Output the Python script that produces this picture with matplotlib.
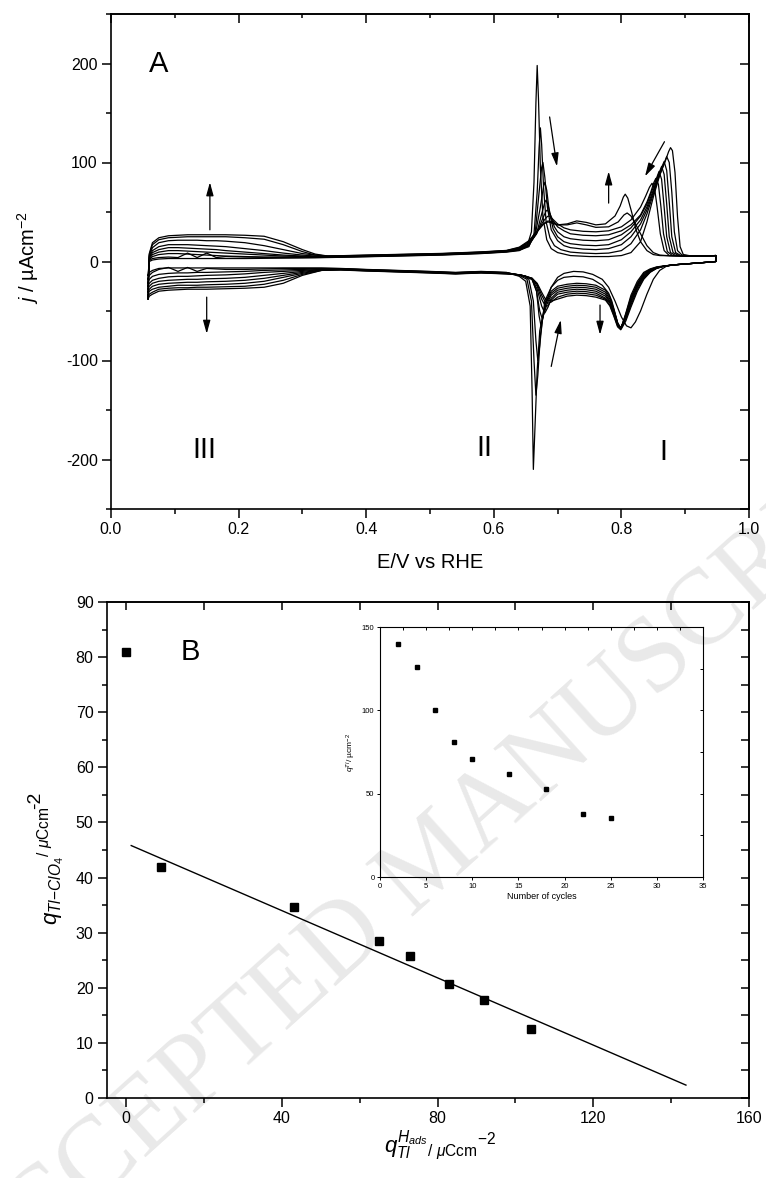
import numpy as np
import matplotlib
matplotlib.use('Agg')
import matplotlib.pyplot as plt

LABEL_FONT = 'Liberation Sans'

plt.rcParams['font.family'] = ['Liberation Sans', 'DejaVu Sans']
plt.rcParams['mathtext.fontset'] = 'custom'
plt.rcParams['mathtext.rm'] = 'Liberation Sans'
plt.rcParams['mathtext.it'] = 'Liberation Sans:italic'
plt.rcParams['mathtext.bf'] = 'Liberation Sans:bold'
plt.rcParams['axes.unicode_minus'] = False

# ---------------- Panel A data: cyclic voltammograms (9 cycles) ----------------
E_low_an = [0.058, 0.060, 0.065, 0.075, 0.09, 0.105, 0.12, 0.135, 0.15, 0.165, 0.18,
            0.21, 0.24, 0.27, 0.30, 0.32, 0.34, 0.38, 0.45, 0.52, 0.58, 0.62]
j_low_an = [
    [-14, 0, 1.5, 2.5, 3, 3, 3, 3, 3, 3, 3, 3, 3.2, 3.4, 3.6, 3.8, 4, 4.5, 5.5, 6.5, 8, 9.5],
    [-18, 1, 3, 4, 4.5, 4, 8.5, 4, 8.5, 4, 5, 4.5, 4.2, 4, 4, 4, 4.2, 4.7, 5.7, 6.8, 8.2, 9.8],
    [-22, 2, 5, 7, 8, 8, 7.5, 7, 6.5, 6, 5.5, 5, 4.5, 4.5, 4.5, 4.5, 4.6, 5, 6, 7, 8.5, 10],
    [-25, 3, 7, 9.5, 11, 11, 10.5, 10, 9.5, 9, 8.5, 7.5, 6.5, 5.5, 5, 5, 5, 5.2, 6.2, 7.2, 8.7, 10.2],
    [-28, 4, 9, 12, 14, 14, 13.5, 13, 12.5, 12, 11, 9.5, 8, 6.5, 5.5, 5, 5, 5.4, 6.4, 7.4, 8.9, 10.4],
    [-31, 5, 11, 15, 17, 17, 17, 16.5, 16, 15.5, 15, 13, 11, 8.5, 6.5, 5.5, 5.2, 5.6, 6.6, 7.6, 9.1, 10.6],
    [-34, 6, 14, 19, 21, 21.5, 21.5, 21.5, 21, 21, 20.5, 19, 16, 12, 8, 6.5, 5.5, 5.8, 6.8, 7.8, 9.3, 10.8],
    [-36, 7, 17, 22, 24, 24.5, 25, 25, 25, 25, 25, 24, 22.5, 17, 10, 6.5, 5.5, 6, 7, 8, 9.5, 11],
    [-38, 8, 19, 24, 26, 26.5, 27, 27, 27, 27, 27, 26.5, 25.5, 20, 12, 7.5, 5.5, 6.2, 7.2, 8.2, 9.7, 11.2],
]

E_high_an = [
    [0.64, 0.652, 0.659, 0.663, 0.666, 0.668, 0.670, 0.673, 0.677, 0.683, 0.69, 0.70, 0.72, 0.75, 0.78, 0.80,
     0.815, 0.83, 0.84, 0.85, 0.86, 0.868, 0.874, 0.877, 0.880, 0.884, 0.888, 0.892, 0.897, 0.91, 0.93, 0.948],
    [0.64, 0.655, 0.663, 0.668, 0.671, 0.673, 0.675, 0.678, 0.682, 0.688, 0.695, 0.705, 0.72, 0.74, 0.76, 0.78,
     0.80, 0.815, 0.83, 0.84, 0.85, 0.858, 0.865, 0.871, 0.875, 0.879, 0.883, 0.888, 0.895, 0.91, 0.93, 0.948],
    [0.64, 0.655, 0.665, 0.671, 0.675, 0.677, 0.680, 0.684, 0.69, 0.70, 0.71, 0.72, 0.74, 0.76, 0.78, 0.80,
     0.815, 0.83, 0.84, 0.85, 0.857, 0.863, 0.867, 0.871, 0.875, 0.879, 0.885, 0.893, 0.91, 0.93, 0.948],
    [0.64, 0.655, 0.665, 0.673, 0.678, 0.680, 0.683, 0.687, 0.693, 0.70, 0.71, 0.72, 0.74, 0.76, 0.78, 0.80,
     0.815, 0.83, 0.84, 0.85, 0.857, 0.863, 0.867, 0.871, 0.875, 0.881, 0.89, 0.91, 0.93, 0.948],
    [0.64, 0.655, 0.667, 0.675, 0.680, 0.682, 0.685, 0.69, 0.695, 0.70, 0.71, 0.72, 0.74, 0.76, 0.78, 0.80,
     0.815, 0.83, 0.84, 0.85, 0.855, 0.859, 0.863, 0.867, 0.871, 0.877, 0.885, 0.91, 0.93, 0.948],
    [0.64, 0.655, 0.667, 0.677, 0.682, 0.684, 0.688, 0.693, 0.70, 0.71, 0.72, 0.74, 0.76, 0.78, 0.80, 0.815,
     0.83, 0.84, 0.846, 0.851, 0.854, 0.858, 0.862, 0.866, 0.872, 0.88, 0.91, 0.93, 0.948],
    [0.64, 0.655, 0.667, 0.678, 0.684, 0.687, 0.692, 0.70, 0.71, 0.72, 0.74, 0.76, 0.78, 0.80, 0.815, 0.83,
     0.838, 0.844, 0.848, 0.852, 0.856, 0.861, 0.867, 0.875, 0.91, 0.93, 0.948],
    [0.64, 0.655, 0.668, 0.678, 0.685, 0.69, 0.70, 0.715, 0.73, 0.745, 0.76, 0.78, 0.795, 0.804, 0.809, 0.815,
     0.822, 0.83, 0.84, 0.85, 0.86, 0.875, 0.91, 0.93, 0.948],
    [0.64, 0.655, 0.668, 0.678, 0.685, 0.69, 0.70, 0.715, 0.73, 0.745, 0.76, 0.775, 0.79, 0.798, 0.803, 0.806,
     0.81, 0.816, 0.823, 0.83, 0.84, 0.85, 0.86, 0.875, 0.91, 0.93, 0.948],
]
j_high_an = [
    [11, 15, 30, 80, 160, 198, 165, 95, 45, 22, 13, 9, 6, 5, 5, 6, 9, 20, 40, 65, 87, 100, 111, 115, 112, 90,
     45, 15, 7, 5.5, 5.5, 6],
    [11.5, 15, 28, 70, 115, 135, 118, 75, 40, 24, 16, 12, 9.5, 8.5, 8, 8.5, 11, 18, 32, 48, 68, 84, 96, 106,
     100, 70, 30, 11, 6.5, 5.5, 5.5, 6],
    [12, 16, 30, 70, 95, 100, 85, 55, 32, 21, 16, 14, 12.5, 12, 13, 17, 25, 38, 52, 70, 84, 95, 101, 92, 60,
     25, 9, 6, 5.5, 5.5, 6],
    [12, 16, 27, 55, 76, 80, 72, 50, 33, 25, 20, 18, 16.5, 16, 17, 22, 30, 42, 55, 72, 86, 96, 88, 58, 25, 9,
     6, 5.5, 5.5, 6],
    [12.5, 17, 28, 48, 60, 62, 57, 44, 35, 30, 25, 23, 21.5, 21, 22, 27, 34, 46, 58, 75, 84, 91, 83, 55, 25,
     9, 6, 5.5, 5.5, 6],
    [13, 18, 28, 44, 51, 52, 48, 41, 35, 31, 28, 26.5, 26, 27, 31, 37, 47, 60, 70, 80, 84, 78, 55, 28, 10, 6,
     5.5, 5.5, 6],
    [13.5, 19, 29, 41, 45.5, 46, 43, 38, 34, 32, 30.5, 30, 31, 35, 42, 55, 66, 75, 79, 74, 55, 28, 11, 6, 5.5,
     5.5, 6],
    [14, 20, 30, 38, 41, 40, 37, 37, 39, 37, 34.5, 35, 40, 47, 49, 46, 38, 28, 16, 9, 6.5, 5.8, 5.5, 5.5, 6],
    [14.5, 21, 31, 38, 40, 39, 37, 38, 41, 39.5, 37, 38, 46, 56, 65, 68, 64, 50, 32, 20, 11, 7, 6, 5.8, 5.5,
     5.5, 6],
]

E_ca_late = [0.948, 0.94, 0.92, 0.90, 0.88, 0.865, 0.855, 0.845, 0.835, 0.825, 0.815, 0.807, 0.799, 0.794,
             0.788, 0.782, 0.775, 0.76, 0.745, 0.73, 0.715, 0.70, 0.69, 0.685, 0.68, 0.675, 0.668, 0.66, 0.65,
             0.64]
E_high_ca = [
    [0.948, 0.94, 0.92, 0.90, 0.88, 0.87, 0.86, 0.85, 0.84, 0.83, 0.822, 0.815, 0.808, 0.80, 0.79, 0.78, 0.77,
     0.755, 0.74, 0.725, 0.71, 0.70, 0.69, 0.68, 0.672, 0.668, 0.665, 0.662, 0.660, 0.657, 0.65, 0.64],
    [0.948, 0.94, 0.92, 0.90, 0.88, 0.865, 0.855, 0.845, 0.835, 0.825, 0.815, 0.807, 0.80, 0.795, 0.79, 0.785,
     0.78, 0.77, 0.755, 0.74, 0.725, 0.71, 0.70, 0.69, 0.68, 0.673, 0.669, 0.666, 0.663, 0.659, 0.652, 0.64],
    [0.948, 0.94, 0.92, 0.90, 0.88, 0.865, 0.855, 0.845, 0.835, 0.825, 0.815, 0.807, 0.799, 0.794, 0.788,
     0.782, 0.775, 0.76, 0.745, 0.73, 0.715, 0.70, 0.69, 0.682, 0.676, 0.672, 0.669, 0.666, 0.662, 0.655,
     0.645],
    [0.948, 0.94, 0.92, 0.90, 0.88, 0.865, 0.855, 0.845, 0.835, 0.825, 0.815, 0.807, 0.799, 0.794, 0.788,
     0.782, 0.775, 0.76, 0.745, 0.73, 0.715, 0.70, 0.69, 0.682, 0.677, 0.674, 0.671, 0.667, 0.66, 0.65, 0.64],
    [0.948, 0.94, 0.92, 0.90, 0.88, 0.865, 0.855, 0.845, 0.835, 0.825, 0.815, 0.807, 0.799, 0.794, 0.788,
     0.782, 0.775, 0.76, 0.745, 0.73, 0.715, 0.70, 0.69, 0.684, 0.679, 0.676, 0.672, 0.667, 0.66, 0.65, 0.64],
    E_ca_late, E_ca_late, E_ca_late, E_ca_late,
]
j_high_ca = [
    [0, -0.5, -1.5, -2.5, -3.5, -5, -9, -18, -33, -50, -61, -67, -65, -56, -40, -26, -18, -13, -10.5, -10,
     -12, -16, -26, -45, -70, -110, -160, -210, -130, -45, -20, -15],
    [0, -0.5, -1.5, -2.5, -3.5, -5, -7, -11, -18, -30, -46, -60, -68, -64, -52, -40, -32, -24, -18, -15.5,
     -15, -16, -19, -26, -40, -75, -115, -135, -100, -40, -18, -14],
    [0, -0.5, -1.5, -2.5, -3.5, -5, -7, -10.5, -17, -28, -44, -58, -68, -62, -48, -36, -29, -24, -22.5, -22,
     -23, -25, -30, -40, -60, -85, -100, -80, -40, -18, -14],
    [0, -0.5, -1.5, -2.5, -3.5, -5, -6.8, -10, -16, -26, -42, -57, -67, -62, -49, -38, -31, -26, -24.5, -24,
     -25, -27, -32, -42, -56, -65, -55, -30, -18, -15, -13.5],
    [0, -0.5, -1.5, -2.5, -3.5, -5, -6.5, -9.5, -15, -25, -40, -56, -67, -63, -50, -40, -33, -28, -26.5, -26,
     -27, -29, -34, -42, -52, -58, -50, -30, -18, -15, -13.5],
    [0, -0.5, -1.5, -2.5, -3.5, -5, -6.3, -9, -14, -24, -38, -55, -67, -63, -51, -41, -35, -30, -28.5, -28,
     -29, -31, -37, -46, -52, -45, -28, -18, -15, -13.5],
    [0, -0.5, -1.5, -2.5, -3.5, -5, -6, -8.5, -13, -23, -37, -54, -68, -64, -52, -42, -37, -32, -30.5, -30,
     -31, -33, -39, -45, -44, -38, -25, -17, -15, -13.5],
    [0, -0.5, -1.5, -2.5, -3.5, -4.8, -5.8, -8, -12, -22, -36, -53, -68, -65, -54, -44, -38, -34, -32.5, -32,
     -33, -36, -41, -42, -40, -34, -23, -17, -15, -13.5],
    [0, -0.5, -1.5, -2.5, -3.5, -4.6, -5.5, -7.5, -11, -20, -34, -52, -69, -66, -55, -45, -39, -36, -34.5,
     -34, -35, -38, -40, -39, -37, -31, -22, -17, -15, -13.5],
]

E_low_ca = [0.62, 0.58, 0.54, 0.50, 0.45, 0.40, 0.36, 0.33, 0.30, 0.27, 0.24, 0.21, 0.18, 0.15, 0.135, 0.12,
            0.105, 0.09, 0.075, 0.065, 0.060, 0.058]
j_low_ca = [
    [-11, -10, -11, -10, -9, -8, -7, -6.5, -6.5, -6.5, -6.5, -6.5, -6.5, -6.5, -6.5, -6.5, -6.5, -6.5, -7, -9,
     -11, -14],
    [-11.2, -10.2, -11.2, -10.2, -9.2, -8.2, -7.2, -7, -7, -7, -7.5, -8, -8, -7, -10, -6, -10, -6, -8, -11,
     -14, -18],
    [-11.4, -10.4, -11.4, -10.4, -9.4, -8.4, -7.4, -7.5, -8, -8.5, -9, -10, -10.5, -11, -11, -11.5, -11.5,
     -12, -13, -15, -18, -22],
    [-11.6, -10.6, -11.6, -10.6, -9.6, -8.6, -7.6, -8, -9, -10, -11, -12.5, -13.5, -14, -14.5, -15, -15,
     -15.5, -17, -19, -22, -25],
    [-11.8, -10.8, -11.8, -10.8, -9.8, -8.8, -7.8, -8, -10, -12, -14, -16, -17, -17.5, -18, -18, -18.5, -19,
     -20, -22, -25, -28],
    [-12, -11, -12, -11, -10, -9, -8, -8.5, -11, -14, -17, -19, -20, -20.5, -21, -21, -21.5, -22, -23, -25,
     -28, -31],
    [-12.2, -11.2, -12.2, -11.2, -10.2, -9.2, -8.2, -8.5, -12, -16, -20, -22, -23, -23.5, -24, -24, -24, -25,
     -26, -28, -30, -34],
    [-12.4, -11.4, -12.4, -11.4, -10.4, -9.4, -8.4, -9, -13, -19, -23, -25, -25.5, -26, -26, -26.5, -26.5,
     -27, -28, -31, -33, -36],
    [-12.6, -11.6, -12.6, -11.6, -10.6, -9.6, -8.6, -9, -14, -22, -26, -27, -27.5, -28, -28, -28, -28.5, -29,
     -30, -33, -35, -38],
]

# arrows in panel A: (tail E, tail j, tip E, tip j)
arrows_A = [
    (0.155, 32, 0.155, 80), (0.150, -36, 0.150, -73), (0.6875, 146, 0.699, 96),
    (0.780, 59, 0.780, 91), (0.8675, 121, 0.837, 86), (0.690, -106, 0.705, -59),
    (0.7665, -44, 0.7665, -74),
]
region_labels = ['III', 'II', 'I']
region_E = [0.147, 0.586, 0.866]
region_j = [-190, -188, -192]

# ---------------- Panel B data ----------------
qH_ads = [0, 9, 43, 65, 73, 83, 92, 104]
q_TlClO4 = [81, 42, 34.7, 28.5, 25.7, 20.7, 17.8, 12.6]
fit_intercept = 46.2
fit_slope = -0.305
fit_range = [1.3, 143.8]

cycles = [2, 4, 6, 8, 10, 14, 18, 22, 25]
q_Tl_inset = [140, 126, 100, 81, 71, 62, 53, 38, 35.5]

# ---------------- figure ----------------
W, H = 766, 1178
fig = plt.figure(figsize=(W / 100, H / 100), dpi=100)


def px_axes(x0, y0, x1, y1):
    return [x0 / W, 1 - y1 / H, (x1 - x0) / W, (y1 - y0) / H]


def mirror(ax, xt_top, xt_top_minor, yt_right, lw, L, Lmin):
    top = ax.secondary_xaxis('top')
    top.set_xticks(xt_top)
    top.set_xticks(xt_top_minor, minor=True)
    top.tick_params(axis='x', which='major', direction='in', length=L, width=lw, labeltop=False)
    top.tick_params(axis='x', which='minor', direction='in', length=Lmin, width=lw, labeltop=False)
    top.spines['top'].set_linewidth(lw)
    right = ax.secondary_yaxis('right')
    right.set_yticks(yt_right)
    right.tick_params(axis='y', which='major', direction='in', length=L, width=lw, labelright=False)
    right.spines['right'].set_linewidth(lw)
    return top, right


# ---- Panel A ----
axA = fig.add_axes(px_axes(111, 14, 749, 509))
for k in range(len(j_low_an)):
    E = E_low_an + E_high_an[k] + E_high_ca[k] + E_low_ca
    J = j_low_an[k] + j_high_an[k] + j_high_ca[k] + j_low_ca[k]
    axA.plot(E, J, color='black', lw=0.9, solid_joinstyle='round')
axA.set_xlim(0, 1)
axA.set_ylim(-250, 250)
axA.set_xticks(np.arange(0, 1.01, 0.2))
axA.set_xticklabels(['0.0', '0.2', '0.4', '0.6', '0.8', '1.0'])
axA.set_xticks(np.arange(0.1, 1.0, 0.2), minor=True)
axA.set_yticks([-200, -100, 0, 100, 200])
axA.set_yticks([-250, -150, -50, 50, 150, 250], minor=True)
for s in axA.spines.values():
    s.set_linewidth(1.2)
axA.tick_params(which='major', direction='out', length=6.5, width=1.1, labelsize=11.5, pad=3)
axA.tick_params(which='minor', direction='out', length=3.5, width=1.1)
mirror(axA, np.arange(0, 1.01, 0.2), np.arange(0.1, 1.0, 0.2), np.arange(-250, 251, 50), 1.1, 6.5, 3.2)

for (e0, j0, e1, j1) in arrows_A:
    axA.annotate('', xy=(e1, j1), xytext=(e0, j0),
                 arrowprops=dict(arrowstyle='-|>,head_length=0.8,head_width=0.22', color='black',
                                 lw=0.9, shrinkA=0, shrinkB=0, mutation_scale=10))
axA.text(0.075, 200, 'A', fontsize=21, family=LABEL_FONT, ha='center', va='center')
for lab, e, j in zip(region_labels, region_E, region_j):
    axA.text(e, j, lab, fontsize=21, family=LABEL_FONT, ha='center', va='center')

fig.text(430 / W, 1 - 563 / H, 'E/V vs RHE', ha='center', va='center', fontsize=14.5)
fig.text(28 / W, 1 - 258 / H, r'$j$ / µAcm$^{-2}$', ha='center', va='center', fontsize=14.5, rotation=90)

# ---- Panel B ----
axB = fig.add_axes(px_axes(106.7, 602, 749, 1098))
axB.plot(qH_ads, q_TlClO4, 's', color='black', ms=6.2, zorder=3)
fx = np.array(fit_range)
axB.plot(fx, fit_intercept + fit_slope * fx, color='black', lw=1.0)
axB.set_xlim(-5, 160)
axB.set_ylim(0, 90)
axB.set_xticks([0, 40, 80, 120, 160])
axB.set_xticks([20, 60, 100, 140], minor=True)
axB.set_yticks(np.arange(0, 91, 10))
axB.set_yticks(np.arange(5, 90, 10), minor=True)
for s in axB.spines.values():
    s.set_linewidth(1.2)
axB.tick_params(which='major', direction='out', length=6.5, width=1.1, labelsize=11.5, pad=3)
axB.tick_params(which='minor', direction='out', length=3.5, width=1.1)
mirror(axB, np.arange(0, 161, 20), [], np.arange(0, 91, 5), 1.1, 6.0, 3.0)
axB.text(16.5, 81, 'B', fontsize=21, family=LABEL_FONT, ha='center', va='center')

fig.text(51 / W, 1 - 866 / H, r'$q_{Tl{-}ClO_4}{}^{/\ \mu\mathrm{Ccm}}$', ha='center', va='center',
         fontsize=16, rotation=90)
fig.text(36 / W, 1 - 800 / H, '-2', ha='center', va='center', fontsize=14, rotation=90)
fig.text(440 / W, 1 - 1146 / H, r'$q_{Tl}^{H_{ads}}{}_{/\ \mu\mathrm{Ccm}}{}^{-2}$', ha='center',
         va='center', fontsize=16)

# ---- inset ----
axI = fig.add_axes(px_axes(380, 627, 703, 877))
axI.plot(cycles, q_Tl_inset, 's', color='black', ms=2.8)
axI.set_xlim(0, 35)
axI.set_ylim(0, 150)
axI.set_xticks(np.arange(0, 36, 5))
axI.set_yticks([0, 50, 100, 150])
for s in axI.spines.values():
    s.set_linewidth(0.8)
axI.tick_params(which='major', direction='out', length=2.5, width=0.7, labelsize=5.5, pad=1.5)
mirror(axI, np.arange(0, 36, 2.5), [], np.arange(0, 151, 25), 0.7, 2.5, 1.5)
axI.set_xlabel('Number of cycles', fontsize=6.5, labelpad=2)
axI.set_ylabel(r'$q^{Tl}$/ µcm$^{-2}$', fontsize=6, labelpad=3)

# ---- watermark ----
fig.text(435 / W, 1 - 862 / H, 'ACCEPTED MANUSCRIPT', rotation=42, rotation_mode='anchor',
         ha='center', va='center', fontsize=77, family=['Liberation Serif', 'DejaVu Serif'],
         color='black', alpha=0.09, zorder=10)

fig.savefig('out.png', dpi=100)
